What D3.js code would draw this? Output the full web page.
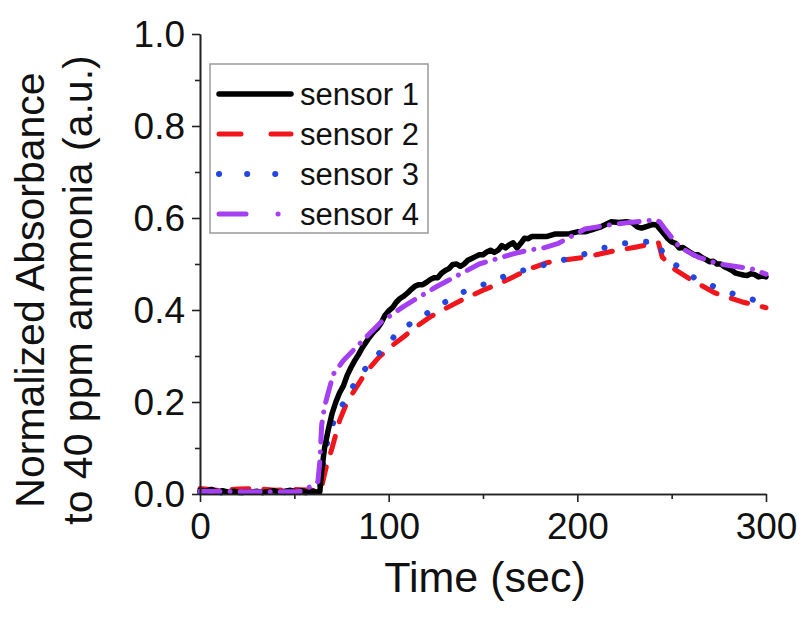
<!DOCTYPE html>
<html><head><meta charset="utf-8">
<script src="https://cdn.jsdelivr.net/npm/d3@7"></script>
<style>body{margin:0;background:#fff;} svg{display:block;font-family:"Liberation Sans",Arial,sans-serif;}</style>
</head><body><svg id="c" width="810" height="630"></svg>
<script>
// ---- data ----
const xTicks = [0, 100, 200, 300];
const yTicks = [0.0, 0.2, 0.4, 0.6, 0.8, 1.0];
const seriesNames = ["sensor 1", "sensor 2", "sensor 3", "sensor 4"];
const sensor1 = [[0,.008],[3,.006],[6,.01],[9,.005],[12,.007],[15,.004],[18,.006],[21,.003],[24,.005],[27,.004],[30,.006],[33,.003],[36,.005],[39,.007],[42,.004],[45,.006],[48,.008],[51,.005],[54,.007],[57,.004],[60,.006],[62,.004],[63.5,.005],[64.5,.05],[66,.10],[68,.14],[70,.175],[72,.20],[74,.22],[76,.235],[78,.258],[80,.275],[82,.29],[84,.303],[86,.318],[88,.33],[90,.342],[92,.352],[94,.36],[96,.372],[98,.388],[100,.398],[102,.405],[104,.417],[106,.425],[108,.43],[110,.437],[112,.445],[114,.452],[116,.455],[118,.455],[120,.46],[122,.466],[124,.47],[126,.47],[128,.48],[130,.486],[132,.49],[134,.499],[136,.50],[138,.495],[140,.50],[142,.508],[144,.512],[146,.516],[148,.52],[150,.52],[152,.526],[154,.53],[156,.525],[158,.53],[160,.54],[162,.535],[164,.542],[166,.546],[168,.535],[170,.545],[172,.556],[174,.555],[176,.56],[180,.56],[184,.56],[188,.565],[192,.565],[196,.566],[200,.57],[204,.57],[208,.575],[212,.58],[215,.586],[218,.592],[222,.59],[226,.592],[229,.59],[232,.58],[234,.578],[237,.582],[240,.586],[242,.585],[244,.575],[246,.565],[248,.555],[250,.548],[252,.545],[254,.535],[256,.536],[258,.53],[260,.525],[262,.52],[264,.52],[266,.514],[268,.51],[270,.505],[272,.506],[274,.50],[276,.50],[278,.494],[280,.49],[282,.486],[284,.48],[286,.478],[288,.476],[290,.475],[292,.479],[294,.477],[296,.472],[298,.474],[300,.472]];
const sensor2 = [[0,.012],[10,.008],[20,.011],[30,.012],[40,.008],[50,.01],[60,.008],[64,.008],[65,.025],[67,.06],[70,.10],[74,.16],[78,.20],[83,.233],[88,.265],[95,.298],[101,.32],[108,.342],[115,.365],[122,.385],[130,.403],[139,.422],[150,.443],[160,.46],[166,.472],[175,.49],[184,.503],[192,.508],[201,.513],[210,.52],[219,.528],[230,.536],[240,.544],[243,.546],[245,.515],[252,.487],[261,.464],[273,.437],[287,.418],[300,.405]];
const sensor3 = [[0,.004],[20,.003],[40,.004],[55,.003],[63,.003],[64.5,.04],[66,.09],[68,.12],[71,.16],[77,.205],[84,.255],[92,.293],[100,.328],[106,.357],[115,.378],[124,.403],[134,.427],[140,.44],[152,.458],[165,.479],[176,.491],[188,.504],[201,.518],[213,.534],[225,.545],[235,.548],[241,.55],[243,.545],[246,.518],[254,.492],[262,.47],[273,.45],[279,.44],[288,.428],[300,.415]];
const sensor4 = [[0,.006],[20,.005],[40,.005],[50,.005],[54,.006],[58,.015],[62.5,.027],[63.5,.07],[64.5,.15],[66,.19],[70.6,.26],[76,.29],[83,.32],[89,.345],[96,.374],[108,.408],[125,.45],[148,.50],[166,.522],[174,.53],[182,.535],[190,.545],[204,.576],[217,.585],[229,.591],[242,.596],[244,.59],[247,.573],[254,.537],[264,.515],[275,.50],[292,.49],[300,.478]];

const colors = ["#000000", "#f0161b", "#2446e0", "#a43ff2"];
const widths = [5.5, 5, 6, 5];
const dashes = [null, "17,15", "0.1,21", "20,10,0.1,10"];
const legendDashes = [null, "22,30", "0.1,28", "27,32,0.1,18"];
const allSeries = [sensor1, sensor2, sensor3, sensor4];

const svg = d3.select("#c");
const x = d3.scaleLinear().domain([0, 300]).range([200, 766]);
const y = d3.scaleLinear().domain([0, 1]).range([494, 34]);

// lines
const line = d3.line().x(d => x(d[0])).y(d => y(d[1]));
const drawOrder = [1, 2, 0, 3];
drawOrder.forEach(i => {
  svg.append("path").datum(allSeries[i]).attr("d", line)
    .attr("fill", "none").attr("stroke", colors[i]).attr("stroke-width", widths[i])
    .attr("stroke-linecap", "round").attr("stroke-linejoin", "round")
    .attr("stroke-dasharray", dashes[i]);
});

// axes
const axisColor = "#222";
const xAxis = svg.append("g").attr("transform", "translate(0,494)")
  .call(d3.axisBottom(x).tickValues(xTicks).tickFormat(d3.format("d")).tickSize(8).tickSizeOuter(0));
svg.append("g").attr("transform", "translate(0,494)")
  .call(d3.axisBottom(x).tickValues([50,150,250]).tickFormat("").tickSize(5).tickSizeOuter(0));
const yAxis = svg.append("g").attr("transform", "translate(200,0)")
  .call(d3.axisLeft(y).tickValues(yTicks).tickFormat(d3.format(".1f")).tickSize(8).tickSizeOuter(0));
svg.append("g").attr("transform", "translate(200,0)")
  .call(d3.axisLeft(y).tickValues([0.1,0.3,0.5,0.7,0.9]).tickFormat("").tickSize(5).tickSizeOuter(0));
svg.selectAll(".domain").attr("stroke", axisColor).attr("stroke-width", 1.6);
svg.selectAll(".tick line").attr("stroke", axisColor).attr("stroke-width", 1.6);
xAxis.selectAll("text").attr("font-size", 37).attr("fill", "#111").attr("font-family", "Liberation Sans, Arial").attr("dy", "0.93em");
yAxis.selectAll("text").attr("font-size", 37).attr("fill", "#111").attr("font-family", "Liberation Sans, Arial").attr("x", -15).attr("dy", "0.35em");

// axis titles
svg.append("text").attr("x", 485).attr("y", 592).attr("text-anchor", "middle")
  .attr("font-size", 43).attr("fill", "#111").text("Time (sec)");
svg.append("text").attr("transform", "translate(44,290) rotate(-90)").attr("text-anchor", "middle")
  .attr("font-size", 41).attr("fill", "#111").text("Normalized Absorbance");
svg.append("text").attr("transform", "translate(92,290) rotate(-90)").attr("text-anchor", "middle")
  .attr("font-size", 41).attr("fill", "#111").text("to 40 ppm ammonia (a.u.)");

// legend
const lg = svg.append("g");
lg.append("rect").attr("x", 210).attr("y", 64).attr("width", 218).attr("height", 169)
  .attr("fill", "#fff").attr("stroke", "#999").attr("stroke-width", 1.5);
seriesNames.forEach((name, i) => {
  const yy = 94 + i * 40;
  lg.append("line").attr("x1", 219).attr("x2", 291).attr("y1", yy).attr("y2", yy)
    .attr("stroke", colors[i]).attr("stroke-width", widths[i]).attr("stroke-linecap", "round")
    .attr("stroke-dasharray", legendDashes[i]);
  lg.append("text").attr("x", 300).attr("y", yy).attr("dy", "0.36em")
    .attr("font-size", 31).attr("fill", "#111").text(name);
});
</script></body></html>
